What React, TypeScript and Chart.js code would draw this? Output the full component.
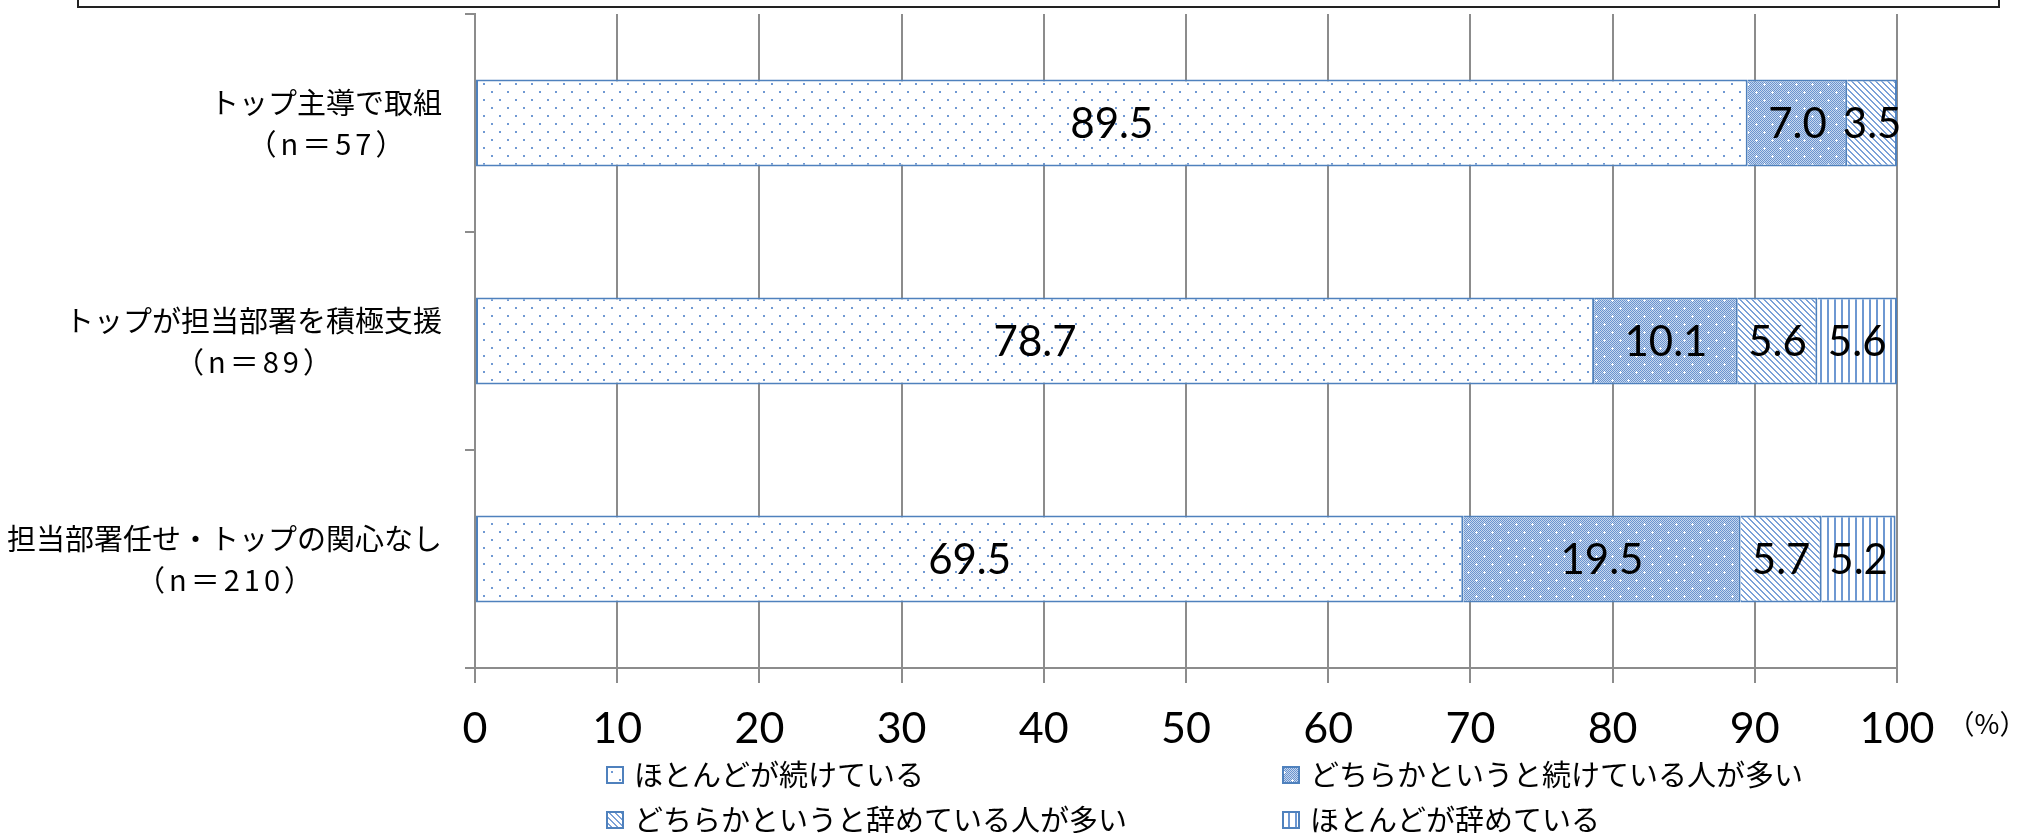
import React, { useEffect, useRef } from 'react';
import { Chart, registerables } from 'chart.js';

Chart.register(...registerables);

// ---- data ----
const categoryNames = ['トップ主導で取組', 'トップが担当部署を積極支援', '担当部署任せ・トップの関心なし'];
const categoryCounts = ['（n＝57）', '（n＝89）', '（n＝210）'];
const seriesNames = [
  'ほとんどが続けている',
  'どちらかというと続けている人が多い',
  'どちらかというと辞めている人が多い',
  'ほとんどが辞めている',
];
const mostlyContinue = [89.5, 78.7, 69.5];
const ratherContinue = [7.0, 10.1, 19.5];
const ratherQuit = [3.5, 5.6, 5.7];
const mostlyQuit = [null, 5.6, 5.2];
const xMin = 0;
const xMax = 100;
const xStep = 10;
const unitLabel = '（%）';

const BORDER_BLUE = '#4F81BD';
const GRID_GRAY = '#8C8C8C';
const JP_FONT = '"Noto Sans CJK JP", "Noto Sans", sans-serif';
const NUM_FONT = 'Lato, "Open Sans", sans-serif';

function makeTile(size: number, paint: (x: number, y: number) => string | null) {
  const c = document.createElement('canvas');
  c.width = size;
  c.height = size;
  const ctx = c.getContext('2d')!;
  ctx.fillStyle = '#FFFFFF';
  ctx.fillRect(0, 0, size, size);
  for (let y = 0; y < size; y++) {
    for (let x = 0; x < size; x++) {
      const col = paint(x, y);
      if (col) {
        ctx.fillStyle = col;
        ctx.fillRect(x, y, 1, 1);
      }
    }
  }
  return c;
}

function makePatterns(ctx: CanvasRenderingContext2D) {
  const dots = makeTile(16, (x, y) => {
    if ((x === 3 || x === 4) && (y === 3 || y === 4)) return '#7099D3';
    if ((x === 11 || x === 12) && (y === 11 || y === 12)) return '#7099D3';
    return null;
  });
  const dense = makeTile(16, (x, y) => {
    const centers = [
      [4, 4],
      [12, 12],
    ];
    for (const [cx, cy] of centers) {
      const dx = Math.abs(x - cx);
      const dy = Math.abs(y - cy);
      if ((dx === 0 && dy <= 1) || (dy === 0 && dx <= 1)) return '#FFFFFF';
    }
    return (x + y) % 2 === 0 ? '#6A93CE' : '#C6D7EF';
  });
  const diag = makeTile(6, (x, y) => ((((x - y) % 6) + 6) % 6 < 2 ? '#7BA1D8' : null));
  const vert = makeTile(7, (x) => (x % 7 < 2 ? '#6E98D2' : null));
  return [dots, dense, diag, vert].map((t) => ctx.createPattern(t, 'repeat')!);
}

export default function App() {
  const canvasRef = useRef<HTMLCanvasElement | null>(null);

  useEffect(() => {
    const canvas = canvasRef.current;
    if (!canvas) return;
    const ctx = canvas.getContext('2d')!;
    const patterns = makePatterns(ctx);
    const seriesData = [mostlyContinue, ratherContinue, ratherQuit, mostlyQuit];

    const overlayPlugin = {
      id: 'overlay',
      afterDatasetsDraw(chart: any) {
        const c = chart.ctx as CanvasRenderingContext2D;
        c.save();
        c.font = `42px ${NUM_FONT}`;
        c.fillStyle = '#000';
        c.textAlign = 'center';
        c.textBaseline = 'middle';
        chart.data.datasets.forEach((ds: any, di: number) => {
          const meta = chart.getDatasetMeta(di);
          meta.data.forEach((el: any, i: number) => {
            const v = ds.data[i];
            if (v == null || v === 0) return;
            const p = el.getProps(['x', 'base', 'y'], true);
            c.fillText(Number(v).toFixed(1), (p.x + p.base) / 2, p.y + 1);
          });
        });
        c.restore();
      },
      afterDraw(chart: any) {
        const c = chart.ctx as CanvasRenderingContext2D;
        const area = chart.chartArea;
        const yScale = chart.scales.y;
        c.save();
        // category labels (two lines, centred on each other, right aligned as a block)
        c.font = `29px ${JP_FONT}`;
        c.fillStyle = '#000';
        c.textAlign = 'center';
        c.textBaseline = 'middle';
        categoryNames.forEach((name, i) => {
          const y = yScale.getPixelForValue(i);
          (c as any).letterSpacing = '0px';
          const w1 = c.measureText(name).width;
          (c as any).letterSpacing = '4px';
          const w2 = c.measureText(categoryCounts[i]).width;
          const w = Math.max(w1, w2);
          const cx = area.left - 33 - w / 2;
          (c as any).letterSpacing = '0px';
          c.fillText(name, cx, y - 20);
          (c as any).letterSpacing = '4px';
          c.fillText(categoryCounts[i], cx + 2, y + 21);
        });
        (c as any).letterSpacing = '0px';
        // unit label
        c.font = `27px ${JP_FONT}`;
        c.fillText(unitLabel, area.right + 90, area.bottom + 56);
        // legend
        const cols = [area.left + 131, area.left + 807];
        const rows = [area.bottom + 107, area.bottom + 152];
        c.font = `29px ${JP_FONT}`;
        c.textAlign = 'left';
        seriesNames.forEach((name, i) => {
          const bx = cols[i % 2];
          const by = rows[Math.floor(i / 2)];
          c.fillStyle = patterns[i];
          c.fillRect(bx, by - 9, 18, 18);
          c.strokeStyle = BORDER_BLUE;
          c.lineWidth = 2;
          c.strokeRect(bx + 1, by - 8, 16, 16);
          c.fillStyle = '#000';
          c.fillText(name, bx + 28, by);
        });
        c.restore();
      },
    };

    const chart = new Chart(ctx, {
      type: 'bar',
      data: {
        labels: categoryNames,
        datasets: seriesNames.map((name, i) => ({
          label: name,
          data: seriesData[i] as any,
          backgroundColor: patterns[i] as any,
          borderColor: BORDER_BLUE,
          borderWidth: 2,
          borderSkipped: i === 0 ? false : 'start',
          categoryPercentage: 1,
          barPercentage: 0.4,
        })),
      },
      options: {
        indexAxis: 'y',
        responsive: false,
        animation: false,
        layout: { padding: { top: 14, right: 125, left: 0, bottom: 0 } },
        plugins: {
          legend: { display: false },
          title: { display: false },
          tooltip: { enabled: false },
        },
        scales: {
          x: {
            stacked: true,
            min: xMin,
            max: xMax,
            ticks: {
              stepSize: xStep,
              color: '#000',
              font: { family: NUM_FONT, size: 43 },
              padding: 20,
              maxRotation: 0,
              autoSkip: false,
            },
            grid: { color: GRID_GRAY, lineWidth: 2, tickLength: 15, drawTicks: true },
            border: { color: GRID_GRAY, width: 2 },
            afterFit: (s: any) => {
              s.height = 165;
            },
          },
          y: {
            stacked: true,
            ticks: { display: false },
            grid: { drawOnChartArea: false, color: GRID_GRAY, lineWidth: 2, tickLength: 10, offset: true },
            border: { color: GRID_GRAY, width: 2 },
            afterFit: (s: any) => {
              s.width = 475;
            },
          },
        },
      } as any,
      plugins: [overlayPlugin],
    });

    return () => {
      chart.destroy();
    };
  }, []);

  return (
    <div
      style={{
        position: 'fixed',
        left: 0,
        top: 0,
        width: 2022,
        height: 833,
        background: '#fff',
        overflow: 'hidden',
      }}
    >
      <div
        style={{
          position: 'absolute',
          left: 77,
          top: -20,
          width: 1923,
          height: 28,
          border: '2px solid #222',
          boxSizing: 'border-box',
        }}
      />
      <canvas ref={canvasRef} width={2022} height={833} style={{ position: 'absolute', left: 0, top: 0 }} />
    </div>
  );
}
